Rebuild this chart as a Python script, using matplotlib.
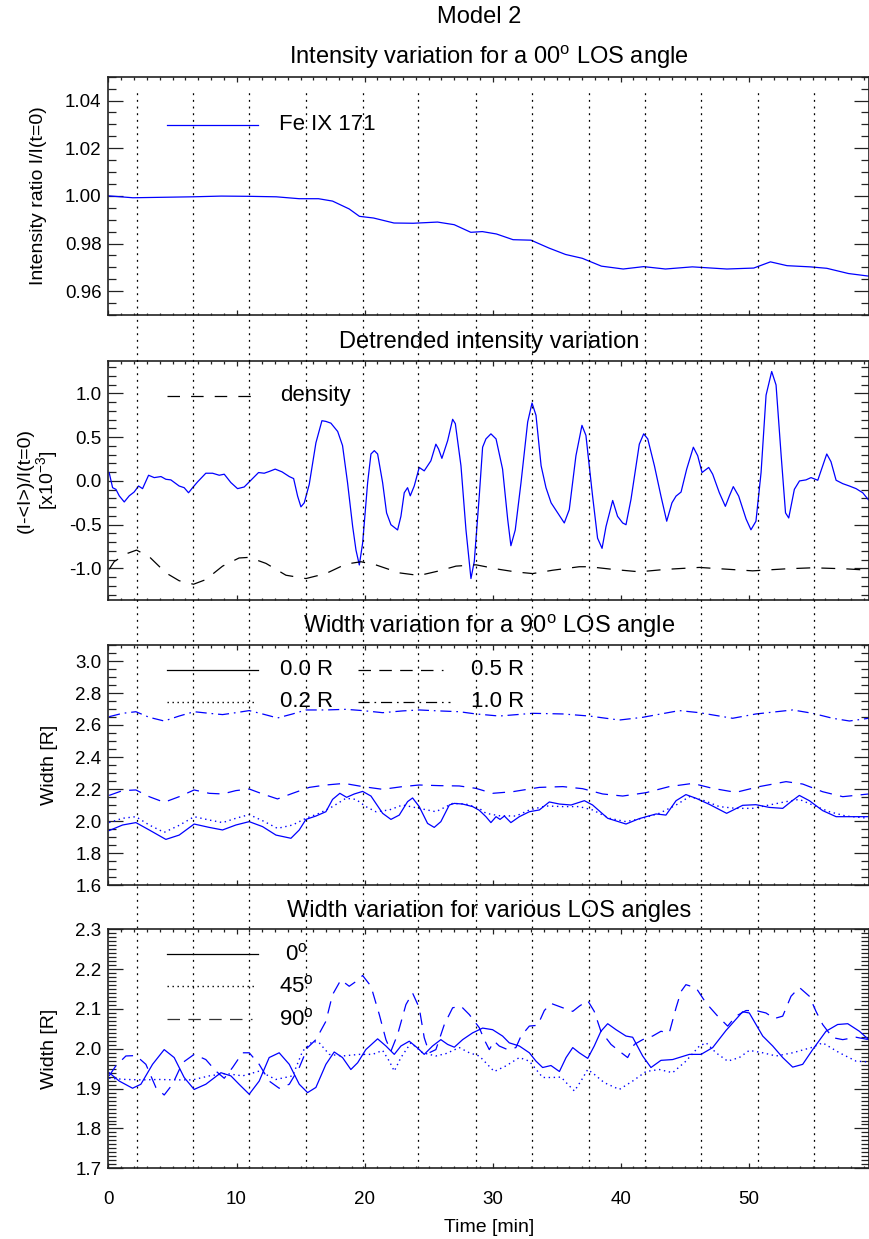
import numpy as np
import matplotlib
matplotlib.use("Agg")
import matplotlib.pyplot as plt
from matplotlib import font_manager
from matplotlib.ticker import MultipleLocator, FormatStrFormatter
from matplotlib.transforms import blended_transform_factory

# ---------------- data ----------------
# vertical dotted markers (min)
t_marks = [2.2, 6.6, 11.0, 15.4, 19.9, 24.2, 28.7, 33.1, 37.5, 41.9, 46.3, 50.7, 55.1]

# panel 1: intensity ratio, Fe IX 171
t_int = [0.0, 1.9, 6.6, 8.8, 11.0, 13.1, 14.9, 16.4, 17.5, 18.8, 19.6, 20.7, 22.3, 23.8,
         25.7, 27.0, 28.3, 29.2, 30.3, 31.6, 33.0, 34.4, 35.7, 37.0, 38.5, 40.2, 41.8,
         43.5, 45.6, 48.3, 50.4, 51.7, 53.0, 54.8, 56.1, 57.8, 59.4]
v_int = [1.0000, 0.9992, 0.9996, 0.9999, 0.9998, 0.9996, 0.9988, 0.9988, 0.9978, 0.9945,
         0.9914, 0.9907, 0.9886, 0.9885, 0.9890, 0.9879, 0.9847, 0.9850, 0.9840, 0.9816,
         0.9814, 0.9781, 0.9754, 0.9738, 0.9705, 0.9693, 0.9703, 0.9693, 0.9702, 0.9693,
         0.9697, 0.9723, 0.9707, 0.9702, 0.9696, 0.9674, 0.9663]

# panel 2: detrended intensity (x1e-3)
t_det = [0.05, 0.32, 0.58, 0.84, 1.23, 1.62, 2.0, 2.35, 2.66, 3.13, 3.57, 4.1, 4.48, 4.87,
         5.52, 5.91, 6.25, 6.57, 6.95, 7.6, 8.13, 8.65, 9.04, 9.56, 10.08, 10.6, 10.99,
         11.72, 12.16, 12.55, 13.02, 13.55, 14.12, 14.46, 14.77, 15.03, 15.29, 15.68, 16.2,
         16.67, 16.98, 17.37, 17.9, 18.28, 18.67, 19.07, 19.33, 19.59, 19.85, 20.24, 20.5,
         20.76, 21.02, 21.41, 21.72, 22.06, 22.58, 22.84, 23.1, 23.36, 23.57, 23.88, 24.27,
         24.66, 25.18, 25.57, 25.78, 26.04, 26.49, 26.88, 27.09, 27.53, 27.92, 28.31, 28.57,
         28.96, 29.22, 29.48, 29.87, 30.27, 30.78, 31.18, 31.43, 31.77, 32.22, 32.74, 33.08,
         33.39, 33.79, 34.17, 34.57, 35.08, 35.6, 35.99, 36.51, 36.98, 37.29, 37.81, 38.2,
         38.55, 38.86, 39.38, 39.76, 40.16, 40.42, 40.81, 41.2, 41.46, 41.8, 42.12, 42.64,
         43.15, 43.6, 44.01, 44.33, 44.72, 45.16, 45.68, 46.02, 46.36, 46.88, 47.19, 47.71,
         48.18, 48.49, 48.8, 49.22, 49.8, 50.18, 50.57, 50.97, 51.36, 51.8, 52.14, 52.54,
         52.88, 53.13, 53.57, 53.97, 54.48, 54.87, 55.4, 55.65, 56.1, 56.43, 56.83, 57.35,
         57.87, 58.39, 58.91, 59.38]
v_det = [0.096, -0.077, -0.096, -0.17, -0.24, -0.17, -0.127, -0.058, -0.088, 0.065, 0.038,
         0.05, 0.019, 0.012, -0.058, -0.077, -0.135, -0.077, -0.012, 0.088, 0.088, 0.065,
         0.077, -0.019, -0.088, -0.069, -0.012, 0.096, 0.088, 0.108, 0.135, 0.104, 0.05,
         0.027, -0.173, -0.296, -0.25, -0.038, 0.435, 0.688, 0.68, 0.66, 0.565, 0.404,
         -0.019, -0.52, -0.79, -0.96, -0.71, -0.019, 0.308, 0.346, 0.308, -0.019, -0.365,
         -0.5, -0.56, -0.404, -0.135, -0.077, -0.17, -0.058, 0.154, 0.115, 0.23, 0.42,
         0.365, 0.258, 0.46, 0.704, 0.654, 0.173, -0.558, -1.115, -0.92, -0.17, 0.385,
         0.48, 0.538, 0.48, 0.135, -0.44, -0.74, -0.56, -0.019, 0.673, 0.89, 0.75, 0.173,
         -0.077, -0.25, -0.365, -0.48, -0.327, 0.288, 0.635, 0.52, -0.173, -0.654, -0.77,
         -0.52, -0.223, -0.404, -0.48, -0.5, -0.21, 0.173, 0.42, 0.538, 0.48, 0.173, -0.173,
         -0.46, -0.25, -0.173, -0.127, 0.135, 0.385, 0.288, 0.096, 0.154, 0.077, -0.135,
         -0.29, -0.173, -0.065, -0.173, -0.435, -0.558, -0.46, 0.096, 0.98, 1.25, 1.096,
         0.288, -0.365, -0.423, -0.096, 0.0, 0.012, 0.038, 0.008, 0.115, 0.308, 0.22, 0.008,
         -0.031, -0.058, -0.088, -0.135, -0.22]

# panel 2: density (dashed, black)
t_den = [0.05, 0.45, 1.49, 2.19, 3.18, 4.48, 5.52, 6.64, 7.6, 8.91, 10.2, 10.99, 12.3,
         13.86, 15.42, 16.98, 18.54, 19.72, 20.9, 22.71, 24.27, 25.83, 27.14, 28.7, 30.52,
         31.83, 33.13, 34.69, 36.77, 37.55, 39.38, 41.46, 43.54, 46.15, 48.49, 50.31,
         52.92, 55.0, 57.6, 59.38]
v_den = [-1.01, -0.92, -0.827, -0.79, -0.865, -1.05, -1.14, -1.18, -1.127, -0.973, -0.88,
         -0.873, -0.942, -1.077, -1.115, -1.058, -0.95, -0.923, -0.96, -1.05, -1.08, -1.027,
         -0.973, -0.958, -1.01, -1.04, -1.058, -1.02, -0.98, -0.98, -1.01, -1.038, -1.01,
         -0.988, -1.01, -1.027, -1.004, -0.992, -1.004, -1.02]

# panel 3: width at 90 deg for several radii
t_w10 = [0.05, 1.1, 2.14, 3.18, 4.35, 5.52, 6.69, 7.87, 8.91, 9.95, 10.99, 12.03, 13.2,
         14.38, 15.42, 16.98, 18.54, 19.85, 21.41, 22.97, 24.27, 25.83, 27.4, 28.7, 30.52,
         33.13, 35.48, 37.55, 39.9, 41.72, 44.58, 46.15, 48.75, 50.57, 53.44, 55.0, 56.56,
         57.87, 59.38]
v_w10 = [2.652, 2.673, 2.683, 2.648, 2.625, 2.656, 2.683, 2.673, 2.665, 2.677, 2.69, 2.669,
         2.644, 2.669, 2.694, 2.694, 2.698, 2.69, 2.677, 2.688, 2.694, 2.688, 2.683, 2.669,
         2.656, 2.673, 2.669, 2.656, 2.631, 2.648, 2.69, 2.677, 2.642, 2.669, 2.694, 2.673,
         2.642, 2.625, 2.642]

t_w05 = [0.05, 1.1, 2.14, 3.18, 4.35, 5.52, 6.69, 7.87, 8.91, 9.95, 10.99, 12.03, 13.2,
         14.38, 15.68, 16.98, 18.41, 19.85, 21.41, 22.97, 24.27, 25.83, 27.4, 28.7, 30.0,
         31.56, 33.65, 35.48, 37.03, 38.6, 40.16, 41.98, 43.8, 45.63, 47.19, 49.0, 50.83,
         52.92, 54.22, 55.78, 57.35, 59.38]
v_w05 = [2.16, 2.19, 2.194, 2.152, 2.117, 2.152, 2.194, 2.173, 2.169, 2.19, 2.2, 2.169,
         2.138, 2.173, 2.21, 2.225, 2.235, 2.215, 2.198, 2.215, 2.225, 2.221, 2.219, 2.204,
         2.173, 2.183, 2.21, 2.215, 2.202, 2.169, 2.156, 2.177, 2.215, 2.235, 2.204, 2.179,
         2.215, 2.246, 2.231, 2.183, 2.152, 2.169]

t_w00 = [0.05, 1.1, 2.14, 3.18, 4.48, 5.52, 6.69, 7.87, 8.91, 9.95, 10.99, 12.03, 13.08,
         14.25, 14.9, 15.42, 16.2, 16.98, 17.5, 18.07, 18.6, 19.2, 19.85, 20.5, 21.41, 22.06,
         22.71, 23.36, 23.75, 24.27, 24.92, 25.44, 25.96, 26.62, 27.01, 27.66, 28.44, 28.96,
         29.48, 29.87, 30.27, 30.58, 30.92, 31.43, 32.09, 32.87, 33.65, 34.43, 35.22, 36.13,
         37.17, 37.81, 38.99, 40.42, 41.46, 42.77, 43.54, 44.33, 45.1, 45.89, 46.93, 48.28,
         49.53, 50.57, 51.61, 52.66, 53.31, 53.96, 54.74, 55.78, 56.83, 58.13, 59.38]
v_w00 = [1.94, 1.975, 1.99, 1.944, 1.885, 1.912, 1.981, 1.96, 1.944, 1.975, 1.996, 1.965,
         1.912, 1.892, 1.944, 2.01, 2.031, 2.058, 2.135, 2.173, 2.148, 2.169, 2.185, 2.156,
         2.048, 2.01, 2.037, 2.121, 2.144, 2.09, 1.985, 1.96, 1.996, 2.1, 2.11, 2.106, 2.09,
         2.067, 2.027, 1.99, 2.027, 2.01, 2.031, 1.99, 2.027, 2.058, 2.069, 2.119, 2.106,
         2.1, 2.127, 2.1, 2.017, 1.981, 2.015, 2.044, 2.037, 2.127, 2.165, 2.142, 2.104,
         2.048, 2.098, 2.102, 2.085, 2.079, 2.121, 2.16, 2.127, 2.065, 2.027, 2.027, 2.027]

t_w02 = [0.05, 1.1, 2.14, 3.18, 4.35, 5.52, 6.69, 7.87, 8.91, 9.95, 10.99, 12.03, 13.2,
         14.38, 15.42, 16.46, 17.5, 18.54, 19.33, 20.1, 20.89, 21.93, 22.97, 24.27, 25.57,
         26.88, 27.92, 28.96, 29.48, 30.52, 31.83, 32.87, 34.17, 35.48, 36.77, 37.81, 39.12,
         40.42, 41.72, 43.02, 44.33, 45.37, 46.41, 47.71, 49.01, 50.31, 51.61, 52.92, 53.96,
         55.0, 56.3, 57.6, 59.38]
v_w02 = [1.99, 2.017, 2.027, 1.975, 1.929, 1.973, 2.027, 2.006, 1.99, 2.017, 2.04, 2.002,
         1.954, 1.975, 2.017, 2.048, 2.09, 2.142, 2.135, 2.09, 2.058, 2.069, 2.1, 2.079,
         2.058, 2.11, 2.106, 2.079, 2.048, 2.033, 2.031, 2.069, 2.094, 2.09, 2.09, 2.069,
         2.017, 1.996, 2.017, 2.048, 2.1, 2.152, 2.131, 2.09, 2.079, 2.079, 2.1, 2.121,
         2.135, 2.1, 2.058, 2.031, 2.017]

# panel 4: width for several LOS angles
t_a00 = [0.05, 0.84, 1.88, 2.53, 3.44, 4.35, 5.13, 5.91, 6.69, 7.6, 8.78, 9.56, 10.2, 10.99,
         11.77, 12.55, 13.33, 14.12, 14.9, 15.55, 16.2, 16.98, 17.63, 18.28, 18.93, 19.46,
         20.1, 21.02, 21.67, 22.32, 22.84, 23.49, 24.14, 24.66, 25.31, 25.96, 26.49, 27.01,
         27.66, 28.44, 29.22, 30.0, 30.78, 31.3, 32.09, 32.87, 33.39, 33.91, 34.56, 35.22,
         35.74, 36.26, 36.77, 37.43, 37.94, 38.46, 38.99, 39.64, 40.42, 40.94, 41.72, 42.37,
         43.15, 44.06, 45.37, 46.28, 47.19, 48.23, 49.53, 50.05, 51.1, 51.88, 52.66, 53.44,
         54.22, 55.0, 56.04, 56.95, 57.74, 58.65, 59.38]
v_a00 = [1.94, 1.919, 1.901, 1.911, 1.961, 1.998, 1.978, 1.928, 1.898, 1.911, 1.94, 1.932,
         1.911, 1.886, 1.919, 1.978, 1.99, 1.961, 1.911, 1.89, 1.903, 1.961, 1.992, 1.978,
         1.948, 1.965, 1.998, 2.025, 2.007, 1.986, 2.007, 2.019, 2.002, 1.986, 2.007, 2.023,
         2.011, 2.004, 2.023, 2.04, 2.052, 2.048, 2.032, 2.015, 2.007, 1.99, 1.969, 1.953,
         1.958, 1.943, 1.978, 2.003, 1.99, 1.976, 2.007, 2.044, 2.063, 2.048, 2.032, 2.029,
         1.982, 1.953, 1.971, 1.973, 1.986, 1.986, 2.003, 2.046, 2.093, 2.09, 2.032, 2.007,
         1.978, 1.954, 1.961, 1.998, 2.044, 2.061, 2.063, 2.044, 2.023]

t_a45 = [0.05, 1.36, 2.66, 3.96, 5.26, 6.57, 7.87, 9.17, 10.47, 11.77, 13.07, 14.38, 15.16,
         15.94, 16.46, 17.24, 18.28, 19.59, 20.63, 21.41, 21.93, 22.32, 22.84, 23.62, 24.53,
         25.57, 26.36, 27.4, 28.18, 28.96, 29.35, 30.13, 31.04, 32.09, 32.87, 33.91, 34.69,
         35.35, 35.87, 36.39, 36.9, 37.43, 37.94, 38.72, 39.9, 40.94, 41.98, 43.02, 44.06,
         45.1, 46.15, 46.68, 47.45, 48.36, 49.27, 50.05, 51.1, 52.14, 53.44, 55.0, 55.78,
         57.09, 58.39, 59.38]
v_a45 = [1.926, 1.923, 1.922, 1.923, 1.922, 1.922, 1.932, 1.938, 1.932, 1.944, 1.923, 1.932,
         1.994, 2.019, 2.015, 1.986, 1.982, 1.986, 1.986, 1.996, 1.969, 1.944, 1.978, 2.015,
         1.99, 1.982, 1.988, 2.003, 1.99, 1.982, 1.969, 1.943, 1.957, 1.978, 1.969, 1.928,
         1.928, 1.929, 1.911, 1.894, 1.919, 1.948, 1.936, 1.915, 1.898, 1.919, 1.943, 1.948,
         1.94, 1.969, 2.007, 2.015, 1.99, 1.969, 1.978, 1.996, 1.99, 1.982, 1.99, 2.004,
         2.015, 1.99, 1.969, 1.967]

t_a90 = [0.05, 0.57, 1.36, 2.14, 2.92, 3.7, 4.35, 5.0, 5.78, 6.69, 7.6, 8.39, 9.04, 9.69,
         10.47, 10.99, 11.77, 12.55, 13.33, 14.12, 14.9, 15.55, 16.2, 16.98, 17.5, 18.15,
         18.8, 19.33, 19.85, 20.5, 21.15, 21.67, 22.06, 22.58, 23.23, 23.75, 24.27, 24.66,
         25.05, 25.57, 26.23, 26.88, 27.53, 28.18, 28.96, 29.35, 29.74, 30.13, 30.52, 31.17,
         31.82, 32.22, 32.87, 33.52, 34.04, 34.56, 35.48, 36.26, 36.77, 37.43, 37.94, 38.46,
         39.25, 39.9, 40.55, 41.07, 41.72, 42.5, 43.15, 43.8, 44.33, 44.72, 45.1, 45.89,
         46.67, 47.58, 48.36, 49.01, 49.79, 50.57, 51.35, 52.01, 52.66, 53.31, 53.96, 54.74,
         55.26, 55.78, 56.56, 57.35, 58.39, 59.38]
v_a90 = [1.932, 1.957, 1.982, 1.983, 1.961, 1.903, 1.884, 1.911, 1.965, 1.986, 1.973, 1.944,
         1.926, 1.953, 1.99, 1.99, 1.961, 1.919, 1.901, 1.911, 1.953, 2.003, 2.023, 2.069,
         2.136, 2.173, 2.157, 2.169, 2.184, 2.157, 2.086, 2.023, 1.994, 2.036, 2.111, 2.14,
         2.103, 2.028, 1.99, 1.998, 2.061, 2.103, 2.107, 2.086, 2.053, 2.023, 1.998, 2.019,
         2.007, 1.998, 2.003, 2.032, 2.057, 2.059, 2.096, 2.114, 2.103, 2.094, 2.107, 2.121,
         2.094, 2.044, 2.011, 1.994, 1.978, 2.011, 2.023, 2.032, 2.044, 2.04, 2.103, 2.144,
         2.161, 2.153, 2.115, 2.082, 2.057, 2.082, 2.096, 2.096, 2.09, 2.076, 2.082, 2.132,
         2.154, 2.132, 2.094, 2.061, 2.028, 2.023, 2.029, 2.023]

# ---------------- fonts / style ----------------
installed = {f.name for f in font_manager.fontManager.ttflist}
main_font = 'Liberation Sans' if 'Liberation Sans' in installed else 'DejaVu Sans'
plt.rcParams['font.family'] = [main_font, 'DejaVu Sans']
plt.rcParams['mathtext.fontset'] = 'custom'
plt.rcParams['mathtext.rm'] = main_font
plt.rcParams['mathtext.it'] = main_font
plt.rcParams['lines.scale_dashes'] = False

BLUE = '#0000ff'
W, H = 870, 1239
DOT = (0, (1.0, 2.6))
DASH = (0, (9, 6))
DASHDOT = (0, (8, 3.5, 1.2, 3.5))
MARKDOT = (0, (1.4, 3.4))
TICK_FS = 13.5
TITLE_FS = 17
LAB_FS = 14
LEG_FS = 16

fig = plt.figure(figsize=(W / 100, H / 100), dpi=100)


def px_axes(top, bottom):
    left, right = 108.5, 869.0
    return fig.add_axes([left / W, 1 - bottom / H, (right - left) / W, (bottom - top) / H])


ax1 = px_axes(76.7, 315.0)
ax2 = px_axes(361.0, 600.0)
ax3 = px_axes(645.0, 885.0)
ax4 = px_axes(929.3, 1168.3)
axes = [ax1, ax2, ax3, ax4]

for ax in axes:
    ax.set_xlim(0, 59.4)
    ax.xaxis.set_major_locator(MultipleLocator(10))
    ax.xaxis.set_minor_locator(MultipleLocator(1))
    ax.tick_params(which='both', direction='in', top=True, right=True,
                   labelsize=TICK_FS, color='#222222', width=0.9, pad=5)
    ax.tick_params(axis='y', which='major', length=11)
    ax.tick_params(axis='y', which='minor', length=5.5)
    ax.tick_params(axis='x', which='major', length=3.5)
    ax.tick_params(axis='x', which='minor', length=1.8)
    for s in ax.spines.values():
        s.set_linewidth(1.2)
        s.set_color('#222222')
    if ax is not ax4:
        ax.tick_params(axis='x', labelbottom=False)

# panel 1
ax1.plot(t_int, v_int, color=BLUE, lw=0.9)
ax1.set_ylim(0.95, 1.05)
ax1.yaxis.set_major_locator(MultipleLocator(0.02))
ax1.yaxis.set_minor_locator(MultipleLocator(0.005))
ax1.yaxis.set_major_formatter(FormatStrFormatter('%.2f'))
ax1.set_title('Intensity variation for a 00$^{\\rm o}$ LOS angle', fontsize=TITLE_FS, pad=9)
ax1.set_ylabel('Intensity ratio I/I(t=0)', fontsize=LAB_FS)
ax1.yaxis.set_label_coords(-0.081, 0.5)

# panel 2
ax2.plot(t_det, v_det, color=BLUE, lw=0.9)
ax2.plot(t_den, v_den, color='black', lw=0.9, ls=(0, (10, 8)))
ax2.set_ylim(-1.36, 1.37)
ax2.yaxis.set_major_locator(MultipleLocator(0.5))
ax2.yaxis.set_minor_locator(MultipleLocator(0.1))
ax2.yaxis.set_major_formatter(FormatStrFormatter('%.1f'))
ax2.set_title('Detrended intensity variation', fontsize=TITLE_FS, pad=9)
ax2.set_ylabel('(I-<I>)/I(t=0)\n[x10$^{-3}$]', fontsize=LAB_FS, linespacing=1.0)
ax2.yaxis.set_label_coords(-0.064, 0.5)

# panel 3
ax3.plot(t_w00, v_w00, color=BLUE, lw=0.9)
ax3.plot(t_w02, v_w02, color=BLUE, lw=1.0, ls=DOT)
ax3.plot(t_w05, v_w05, color=BLUE, lw=0.9, ls=DASH)
ax3.plot(t_w10, v_w10, color=BLUE, lw=0.9, ls=DASHDOT)
ax3.set_ylim(1.6, 3.1)
ax3.yaxis.set_major_locator(MultipleLocator(0.2))
ax3.yaxis.set_minor_locator(MultipleLocator(0.05))
ax3.yaxis.set_major_formatter(FormatStrFormatter('%.1f'))
ax3.set_title('Width variation for a 90$^{\\rm o}$ LOS angle', fontsize=TITLE_FS, pad=9)
ax3.set_ylabel('Width [R]', fontsize=LAB_FS)
ax3.yaxis.set_label_coords(-0.066, 0.5)

# panel 4
ax4.plot(t_a00, v_a00, color=BLUE, lw=0.9)
ax4.plot(t_a45, v_a45, color=BLUE, lw=1.0, ls=DOT)
ax4.plot(t_a90, v_a90, color=BLUE, lw=0.9, ls=DASH)
ax4.set_ylim(1.7, 2.3)
ax4.yaxis.set_major_locator(MultipleLocator(0.1))
ax4.yaxis.set_minor_locator(MultipleLocator(0.01))
ax4.yaxis.set_major_formatter(FormatStrFormatter('%.1f'))
ax4.set_title('Width variation for various LOS angles', fontsize=TITLE_FS, pad=9)
ax4.set_ylabel('Width [R]', fontsize=LAB_FS)
ax4.yaxis.set_label_coords(-0.066, 0.5)
ax4.set_xlabel('Time [min]', fontsize=LAB_FS, labelpad=8)
ax4.tick_params(axis='x', pad=16)

# vertical dotted markers spanning all panels
trans = blended_transform_factory(ax4.transData, fig.transFigure)
for tm in t_marks:
    ax4.plot([tm, tm], [1 - 1168.3 / H, 1 - 92 / H], transform=trans, clip_on=False,
             color='black', lw=0.9, ls=MARKDOT, zorder=0.5)

fig.text(479 / W, 1 - 17 / H, 'Model 2', ha='center', va='center', fontsize=TITLE_FS)


# hand-placed legends (figure pixel positions)
def leg_line(x0, x1, y, **kw):
    fig.add_artist(plt.Line2D([x0 / W, x1 / W], [1 - y / H, 1 - y / H],
                              transform=fig.transFigure, **kw))


def leg_text(x, y, s, **kw):
    fig.text(x / W, 1 - y / H, s, ha='left', va='center', fontsize=LEG_FS, **kw)


leg_line(167, 258, 125, color=BLUE, lw=0.9)
leg_text(279, 125, 'Fe IX 171')

leg_line(167, 252, 396, color='black', lw=0.9, ls=(0, (9, 8)))
leg_text(280, 396, 'density')

leg_line(167, 258, 669.5, color='black', lw=0.9)
leg_text(280, 669.5, '0.0 R')
leg_line(358, 443, 669.5, color='black', lw=0.9, ls=DASH)
leg_text(471, 669.5, '0.5 R')
leg_line(167, 255, 701.5, color='black', lw=1.0, ls=DOT)
leg_text(280, 701.5, '0.2 R')
leg_line(358, 450, 701.5, color='black', lw=0.9, ls=DASHDOT)
leg_text(471, 701.5, '1.0 R')

leg_line(167, 258, 954, color='black', lw=0.9)
leg_text(285, 954, '0$^{\\rm o}$')
leg_line(167, 255, 986, color='black', lw=1.0, ls=DOT)
leg_text(279, 986, '45$^{\\rm o}$')
leg_line(167, 252, 1019, color='#333333', lw=0.9, ls=DASH)
leg_text(279, 1019, '90$^{\\rm o}$')

fig.savefig('out.png', dpi=100)
